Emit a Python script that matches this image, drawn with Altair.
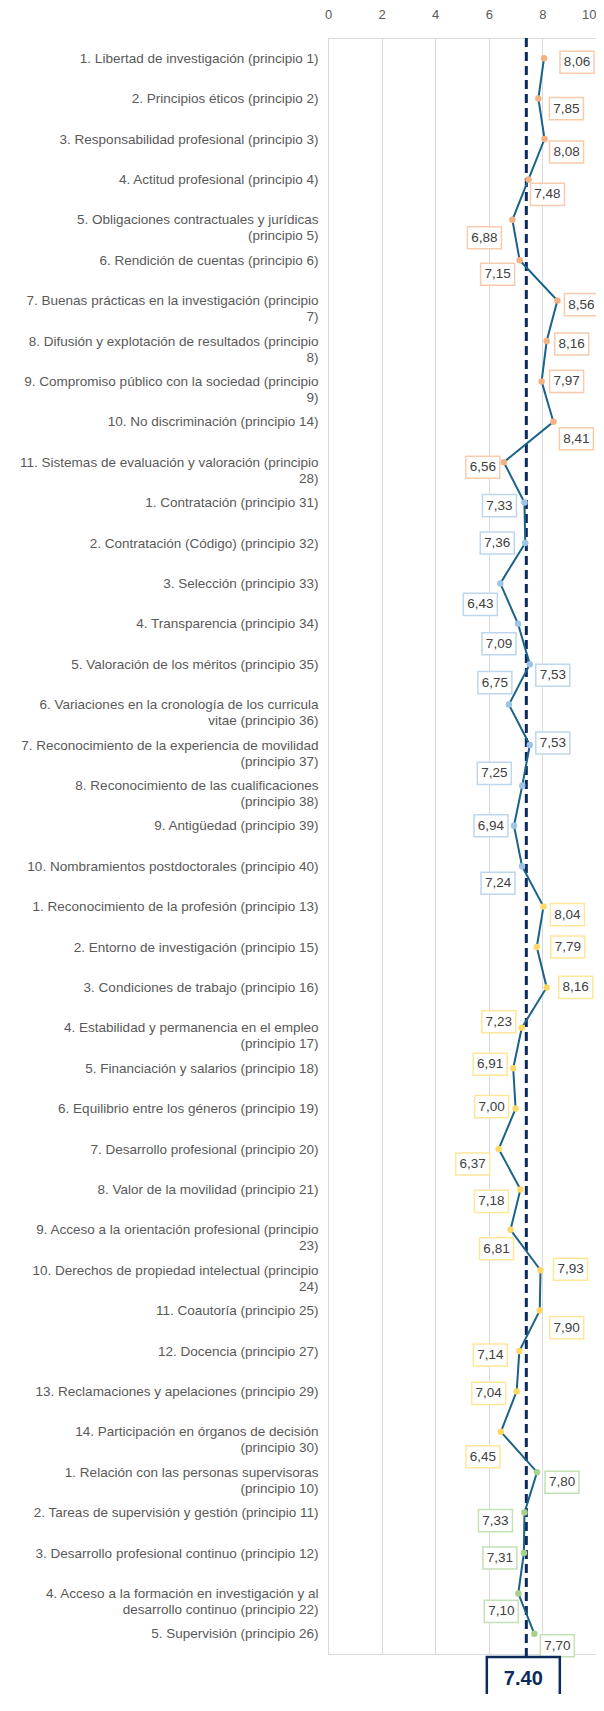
import altair as alt
import pandas as pd

# ---------------- data ----------------
labels = [
    "1. Libertad de investigación (principio 1)",
    "2. Principios éticos (principio 2)",
    "3. Responsabilidad profesional (principio 3)",
    "4. Actitud profesional (principio 4)",
    "5. Obligaciones contractuales y jurídicas|(principio 5)",
    "6. Rendición de cuentas (principio 6)",
    "7. Buenas prácticas en la investigación (principio|7)",
    "8. Difusión y explotación de resultados (principio|8)",
    "9. Compromiso público con la sociedad (principio|9)",
    "10. No discriminación (principio 14)",
    "11. Sistemas de evaluación y valoración (principio|28)",
    "1. Contratación (principio 31)",
    "2. Contratación (Código) (principio 32)",
    "3. Selección (principio 33)",
    "4. Transparencia (principio 34)",
    "5. Valoración de los méritos (principio 35)",
    "6. Variaciones en la cronología de los curricula|vitae (principio 36)",
    "7. Reconocimiento de la experiencia de movilidad|(principio 37)",
    "8. Reconocimiento de las cualificaciones|(principio 38)",
    "9. Antigüedad (principio 39)",
    "10. Nombramientos postdoctorales (principio 40)",
    "1. Reconocimiento de la profesión (principio 13)",
    "2. Entorno de investigación (principio 15)",
    "3. Condiciones de trabajo (principio 16)",
    "4. Estabilidad y permanencia en el empleo|(principio 17)",
    "5. Financiación y salarios (principio 18)",
    "6. Equilibrio entre los géneros (principio 19)",
    "7. Desarrollo profesional (principio 20)",
    "8. Valor de la movilidad (principio 21)",
    "9. Acceso a la orientación profesional (principio|23)",
    "10. Derechos de propiedad intelectual (principio|24)",
    "11. Coautoría (principio 25)",
    "12. Docencia (principio 27)",
    "13. Reclamaciones y apelaciones (principio 29)",
    "14. Participación en órganos de decisión|(principio 30)",
    "1. Relación con las personas supervisoras|(principio 10)",
    "2. Tareas de supervisión y gestión (principio 11)",
    "3. Desarrollo profesional continuo (principio 12)",
    "4. Acceso a la formación en investigación y al|desarrollo continuo (principio 22)",
    "5. Supervisión (principio 26)",
]

values = [
    8.06, 7.85, 8.08, 7.48, 6.88, 7.15, 8.56, 8.16, 7.97, 8.41, 6.56,
    7.33, 7.36, 6.43, 7.09, 7.53, 6.75, 7.53, 7.25, 6.94, 7.24,
    8.04, 7.79, 8.16, 7.23, 6.91, 7.00, 6.37, 7.18, 6.81, 7.93, 7.90, 7.14, 7.04, 6.45,
    7.80, 7.33, 7.31, 7.10, 7.70,
]

group_names = [
    "Aspectos éticos y profesionales",
    "Contratación y selección",
    "Condiciones de trabajo",
    "Formación y desarrollo",
]
group_sizes = [11, 10, 14, 5]

average = 7.40

# placement of each data label relative to its point (pixels), as in the original
label_dx = [33, 28, 22, 19, -28, -22, 24, 25, 25, 23, -21,
            -25, -28, -20, -19, 23, -14, 23, -28, -23, -24,
            24, 31, 29, -23, -23, -24, -26, -29, -14, 30, 27, -29, -28, -18,
            25, -29, -24, -17, 23]
label_dy = [4, 10, 13, 15, 18, 14, 4, 3, 0, 17, 5,
            3, 0, 21, 20, 11, -22, -2, -12, 0, 17,
            8, 0, 0, -6, -4, -2, 15, 12, 19, -1, 17, 4, 2, 25,
            10, 8, 5, 18, 12]

# ---------------- styles ----------------
marker_colors = ["#f4b183", "#9dc3e6", "#ffd966", "#a9d18e"]
box_colors = ["#f8cbad", "#bdd7ee", "#ffe699", "#c5e0b4"]
line_color = "#1b6289"
avg_color = "#0d2a5c"
FONT = "Liberation Sans"

groups = []
for g, n in zip(group_names, group_sizes):
    groups += [g] * n

df = pd.DataFrame({
    "idx": list(range(len(labels))),
    "categoria": labels,
    "valor": values,
    "grupo": groups,
    "dx": label_dx,
    "dy": label_dy,
})

W, H = 268, 1616
XMAX = 10
px_per_unit = W / XMAX

x_scale = alt.Scale(domain=[0, XMAX], nice=False, zero=True)
x_enc = alt.X(
    "valor:Q",
    scale=x_scale,
    axis=alt.Axis(
        orient="top", values=[0, 2, 4, 6, 8, 10], title=None,
        labelFontSize=13, labelColor="#595959", labelFont=FONT,
        labelAlign={"condition": {"test": "datum.value == 10", "value": "right"}, "value": "center"},
        domain=False, ticks=False, labelPadding=17,
        grid=True, gridColor="#d9d9d9", gridWidth=1,
    ),
)
y_enc = alt.Y(
    "categoria:N",
    sort=labels,
    scale=alt.Scale(type="point", padding=0.5),
    axis=alt.Axis(
        title=None, labelExpr="split(datum.value, '|')",
        labelFontSize=13.5, labelColor="#595959", labelFont=FONT,
        labelPadding=10, labelLimit=320, labelLineHeight=16,
        ticks=False, domain=False, grid=False,
    ),
)

base = alt.Chart(df)

avg_df = pd.DataFrame({"promedio": [average], "texto": [f"{average:.2f}"]})

BOX_Y = H + 25

avg_rule = alt.Chart(avg_df).mark_rule(
    color=avg_color, strokeWidth=3, strokeDash=[9, 5]
).encode(
    x=alt.X("promedio:Q"),
    y=alt.value(0),
    y2=alt.value(BOX_Y - 22),
)

line = base.mark_line(color=line_color, strokeWidth=2).encode(
    x=x_enc, y=y_enc, order="idx:Q"
)

points = base.mark_circle(size=42, opacity=1).encode(
    x=x_enc, y=y_enc,
    color=alt.Color("grupo:N", scale=alt.Scale(domain=group_names, range=marker_colors), legend=None),
)

labelled = base.transform_calculate(
    lx=f"datum.valor + datum.dx / {px_per_unit}",
    etiqueta="replace(format(datum.valor, '.2f'), '.', ',')",
)

box_path = "M-1,-0.65L1,-0.65L1,0.65L-1,0.65Z"
boxes = labelled.mark_point(
    shape=box_path, size=34 * 34, fill="white", fillOpacity=1,
    strokeWidth=1.5, opacity=1,
).encode(
    x=alt.X("lx:Q"), y=y_enc,
    yOffset=alt.YOffset("dy:Q", scale=None),
    stroke=alt.Stroke("grupo:N", scale=alt.Scale(domain=group_names, range=box_colors), legend=None),
)

texts = labelled.mark_text(fontSize=13.5, color="#404040", font=FONT).encode(
    x=alt.X("lx:Q"), y=y_enc,
    yOffset=alt.YOffset("dy:Q", scale=None),
    text="etiqueta:N",
)

avg_box = alt.Chart(avg_df).mark_point(
    shape="M-1,-0.6L1,-0.6L1,0.6L-1,0.6Z", size=73 * 73,
    fill="white", fillOpacity=1, stroke=avg_color, strokeWidth=2.5, opacity=1,
).encode(
    x=alt.X("promedio:Q"),
    y=alt.value(BOX_Y),
    xOffset=alt.value(-3),
)
avg_text = alt.Chart(avg_df).mark_text(
    fontSize=20, fontWeight="bold", color=avg_color, font=FONT, dx=-3,
).encode(
    x=alt.X("promedio:Q"),
    y=alt.value(BOX_Y),
    text="texto:N",
)

chart = alt.layer(
    avg_rule, line, points, boxes, texts, avg_box, avg_text
).properties(
    width=W, height=H,
    autosize=alt.AutoSizeParams(type="none"),
    padding={"left": 320, "top": 30, "right": 0, "bottom": 40},
).configure_view(stroke=None).configure(background="white")

chart.save("out.html", embed_options={"renderer": "svg", "actions": False})
